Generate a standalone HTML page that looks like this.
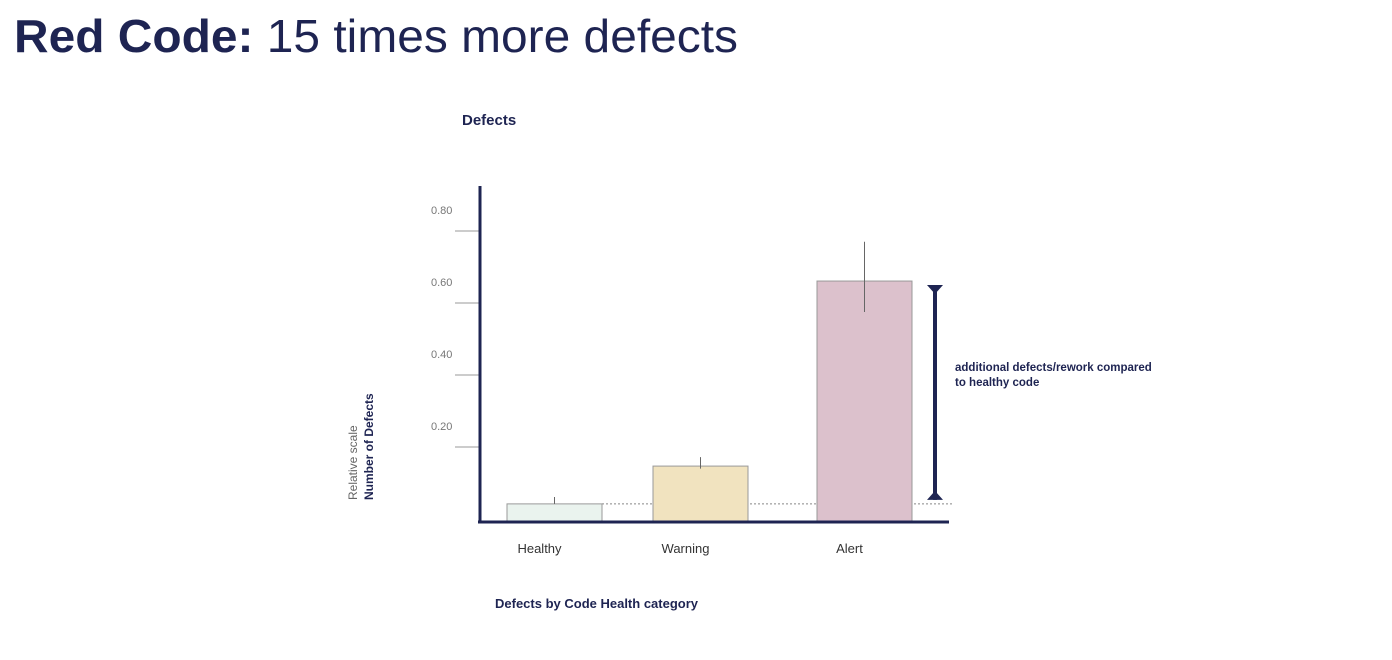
<!DOCTYPE html>
<html><head><meta charset="utf-8"><style>
html,body{margin:0;padding:0;background:#fff;}
svg{display:block;font-family:"Liberation Sans",sans-serif;}
</style></head><body>
<svg id="chart" width="1392" height="660" viewBox="0 0 1392 660">
<text x="14" y="52" font-size="46" fill="#1e2452" textLength="724" lengthAdjust="spacingAndGlyphs"><tspan font-weight="bold">Red Code:</tspan> 15 times more defects</text>
<text x="462" y="125" font-size="15" font-weight="bold" fill="#1e2452">Defects</text>
<text x="495" y="608" font-size="13" font-weight="bold" fill="#1e2452">Defects by Code Health category</text>
<text transform="translate(357,500) rotate(-90)" font-size="12" fill="#666">Relative scale</text>
<text transform="translate(373,500) rotate(-90)" font-size="12" font-weight="bold" fill="#1e2452">Number of Defects</text>
<g id="plot"></g>
<text x="955" y="371" font-size="11.5" font-weight="bold" fill="#1e2452"><tspan x="955">additional defects/rework compared</tspan><tspan x="955" dy="15">to healthy code</tspan></text>
</svg>
<script>
const categories = ["Healthy","Warning","Alert"];
const values = [0.042, 0.147, 0.661];
const errHigh = [0.061, 0.172, 0.77];
const errLow = [0.042, 0.14, 0.575];
const tickValues = [0.2, 0.4, 0.6, 0.8];
const tickLabels = ["0.20","0.40","0.60","0.80"];
const fills = ["#eaf3ee","#f1e3bf","#dcc1cc"];

const NS = "http://www.w3.org/2000/svg";
const g = document.getElementById("plot");
function y(v){ return 519 - v*360; }
const barX = [507, 653, 817];
const barW = 95;
function x(i){ return barX[i]; }
function mk(tag, attrs){ const e=document.createElementNS(NS,tag); for(const k in attrs) e.setAttribute(k,attrs[k]); g.appendChild(e); return e; }

tickValues.forEach((v,i)=>{
  const t = mk("line",{x1:455,x2:479,y1:y(v),y2:y(v),stroke:"#999","stroke-width":1});
  
  
  const l = mk("text",{x:431,y:y(v)-17,"font-size":11,fill:"#777"});
  l.textContent = tickLabels[i];
  
  
});
const ax = mk("line",{x1:480,x2:480,y1:186,y2:522,stroke:"#1e2452","stroke-width":3});



const dl = mk("line",{x1:602,x2:952,y1:y(values[0]),y2:y(values[0]),stroke:"#888","stroke-width":1,"stroke-dasharray":"2,2"});



categories.forEach((c,i)=>{
  const b = mk("rect",{x:x(i),y:y(values[i]),width:barW,height:522-y(values[i]),fill:fills[i],stroke:"#999","stroke-width":1});
  
  
  const e = mk("line",{x1:x(i)+barW/2,x2:x(i)+barW/2,y1:y(errHigh[i]),y2:y(errLow[i]),stroke:"#666","stroke-width":1});
  
  
  const t = mk("text",{x:x(i)+barW/2-15,y:553,"font-size":13,fill:"#333","text-anchor":"middle"});
  t.textContent = c;
  
  
});
const base = mk("line",{x1:478,x2:949,y1:522,y2:522,stroke:"#1e2452","stroke-width":3});



const bx = 935, bt = y(values[2])+4, bb = y(values[0])-4;
const br = mk("line",{x1:bx,x2:bx,y1:bt,y2:bb,stroke:"#1e2452","stroke-width":4});


const t1 = mk("polygon",{points:`${bx-8},${bt} ${bx+8},${bt} ${bx},${bt+9}`,fill:"#1e2452"});


const t2 = mk("polygon",{points:`${bx-8},${bb} ${bx+8},${bb} ${bx},${bb-9}`,fill:"#1e2452"});


</script>
</body></html>
